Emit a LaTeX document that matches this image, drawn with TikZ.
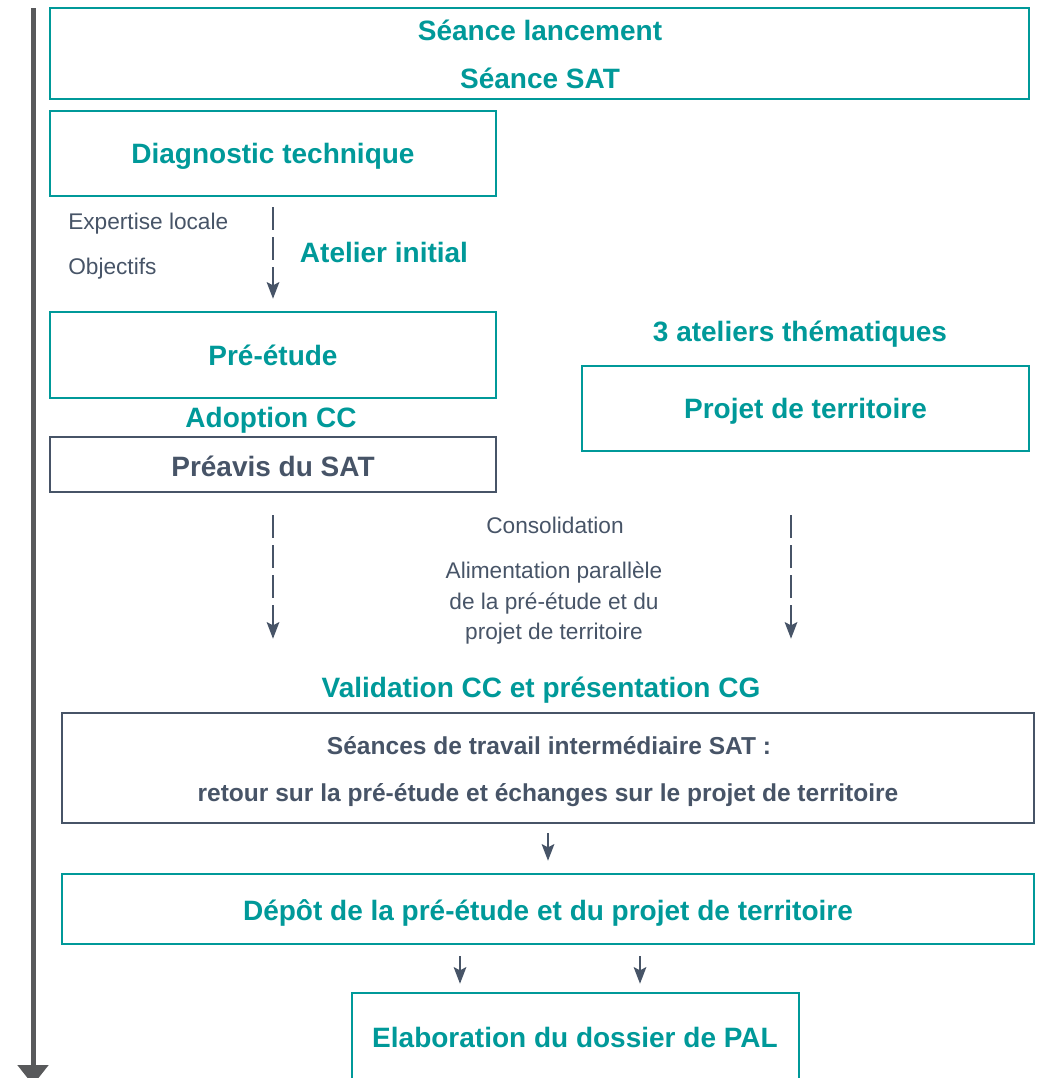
\documentclass[tikz,border=0pt]{standalone}
\usepackage{fontspec}
\setmainfont{Liberation Sans}
\usetikzlibrary{arrows.meta,calc,fit}
\definecolor{brandteal}{RGB}{0,153,153}
\definecolor{slate}{RGB}{71,84,103}
\definecolor{timeline}{RGB}{88,89,91}
\begin{document}
\begin{tikzpicture}[x=0.75pt,y=-0.75pt,
  tealbox/.style={draw=brandteal, line width=1.9pt, inner sep=0pt},
  slatebox/.style={draw=slate, line width=1.9pt, inner sep=0pt},
  head/.style={text=brandteal, font=\fontsize{21}{25}\selectfont\bfseries,
    inner sep=0pt, text height=15pt, text depth=0pt},
  darkhead/.style={head, text=slate},
  subhead/.style={text=slate, font=\fontsize{18.4}{22}\selectfont\bfseries,
    inner sep=0pt, text height=13.2pt, text depth=0pt},
  note/.style={text=slate, font=\fontsize{17}{20}\selectfont,
    inner sep=0pt, text height=12.2pt, text depth=0pt},
  flow/.style={draw=slate, line width=1.5pt,
    -{Stealth[length=12.5pt,width=9.5pt,inset=2.5pt]}},
  dashflow/.style={flow, dash pattern=on 17pt off 5.5pt},
]
\useasboundingbox (0,0) rectangle (1039,1078);

% time axis on the left
\coordinate (tl-top) at (33,8);
\coordinate (tl-end) at (33,1085);
\draw[draw=timeline, line width=3.75pt,
  -{Triangle[width=22.5pt,length=15pt]}] (tl-top) -- (tl-end);

% launch meetings
\node[tealbox, fit={(50,8)(1029,99)}] (launch) {};
\node[head] (launch-a) at (540,30) {Séance lancement};
\node[head] (launch-b) at (540,78) {Séance SAT};

% technical diagnosis and initial workshop
\node[tealbox, fit={(50,111)(496,196)}] (diag) {};
\node[head] (diag-t) at (diag.center) {Diagnostic technique};
\node[note, anchor=west] (expert) at (68,221) {Expertise locale};
\node[note, anchor=west] (goals) at (68,266.5) {Objectifs};
\node[head] (atelier) at (384,252.5) {Atelier initial};

% pre-study
\node[tealbox, fit={(50,312)(496,398)}] (pre) {};
\node[head] (pre-t) at (pre.center) {Pré-étude};
\draw[dashflow, shorten <=7.5pt, shorten >=9pt] (diag.south) -- (pre.north);

\node[head] (adopt) at (271,417) {Adoption CC};
\node[slatebox, fit={(50,437)(496,492)}] (preavis) {};
\node[darkhead] (preavis-t) at ($(preavis.center)+(0,1.5)$) {Préavis du SAT};

% territorial project
\node[head] (themes) at (800,331) {3 ateliers thématiques};
\node[tealbox, fit={(582,366)(1029,451)}] (projet) {};
\node[head] (projet-t) at (projet.center) {Projet de territoire};

% consolidation
\node[note] (consol) at (555,525) {Consolidation};
\node[note] (alim1) at (554,570) {Alimentation parallèle};
\node[note] (alim2) at (554,601) {de la pré-étude et du};
\node[note] (alim3) at (554,631) {projet de territoire};

\node[head] (valid) at (541,687) {Validation CC et présentation CG};
\node[slatebox, fit={(62,713)(1034,823)}] (seances) {};
\node[subhead] (seances-a) at (549,746) {Séances de travail intermédiaire SAT :};
\node[subhead] (seances-b) at (548,793) {retour sur la pré-étude et échanges sur le projet de territoire};

\draw[dashflow, shorten <=16.5pt, shorten >=54.75pt]
  (preavis.south) -- (preavis.south |- seances.north);
\coordinate (projet-out) at ($(projet.south)+(-14.5,0)$);
\draw[dashflow, shorten <=47.25pt, shorten >=54.75pt]
  (projet-out) -- (projet-out |- seances.north);

% deposit and PAL file
\node[tealbox, fit={(62,874)(1034,944)}] (depot) {};
\node[head] (depot-t) at (548,910) {Dépôt de la pré-étude et du projet de territoire};
\draw[flow, shorten <=6.75pt, shorten >=9pt] (seances.south) -- (depot.north);

\node[tealbox, fit={(352,993)(799,1081)}] (pal) {};
\node[head] (pal-t) at (575,1037) {Elaboration du dossier de PAL};
\coordinate (pal-in-a) at ($(pal.north)+(-115.5,0)$);
\coordinate (pal-in-b) at ($(pal.north)+(64.5,0)$);
\draw[flow, shorten <=8.25pt, shorten >=6pt] (depot.south -| pal-in-a) -- (pal-in-a);
\draw[flow, shorten <=8.25pt, shorten >=6pt] (depot.south -| pal-in-b) -- (pal-in-b);
\end{tikzpicture}
\end{document}
